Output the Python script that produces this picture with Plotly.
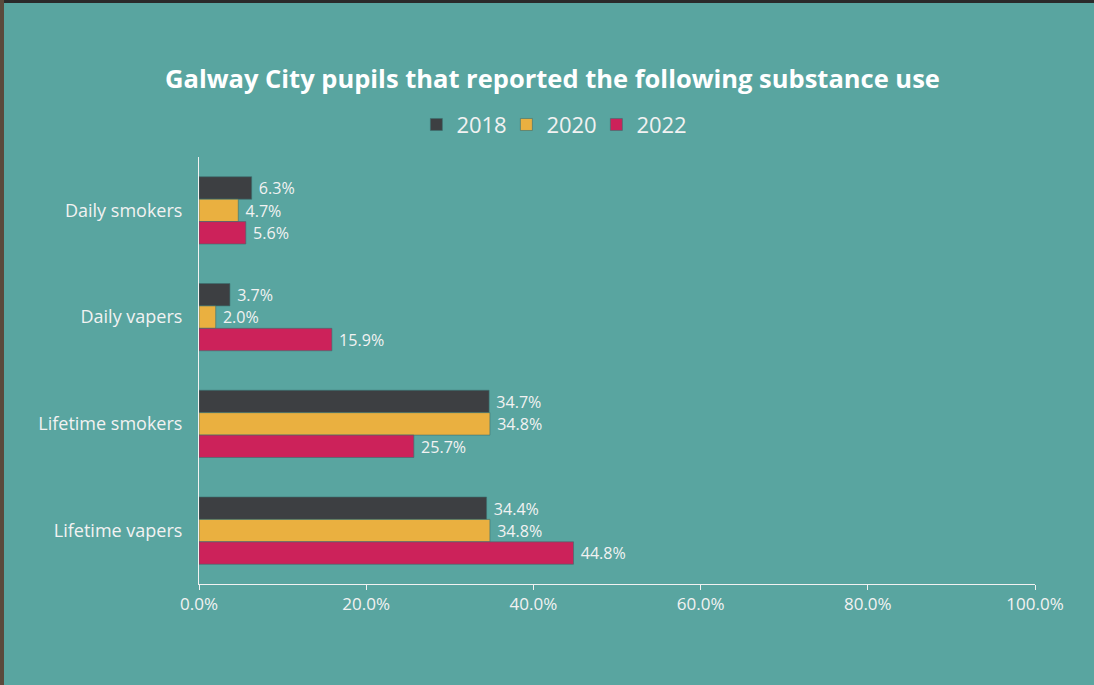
import plotly.graph_objects as go

# data
categories = ["Daily smokers", "Daily vapers", "Lifetime smokers", "Lifetime vapers"]
years = ["2018", "2020", "2022"]
values_2018 = [0.063, 0.037, 0.347, 0.344]
values_2020 = [0.047, 0.020, 0.348, 0.348]
values_2022 = [0.056, 0.159, 0.257, 0.448]
x_ticks = [0, 0.2, 0.4, 0.6, 0.8, 1.0]

BG = "#59a5a0"
COLORS = ["#3d3f42", "#eab040", "#cc225a"]
FONT = "Open Sans"
TXT = "#f2f2f2"

fig = go.Figure()
for name, vals, color in zip(years, [values_2018, values_2020, values_2022], COLORS):
    fig.add_trace(go.Bar(
        name=name,
        y=categories,
        x=vals,
        orientation="h",
        marker=dict(color=color, line=dict(color="rgba(60,110,110,0.6)", width=1)),
        text=[f" {v * 100:.1f}%" for v in vals],
        textposition="outside",
        textfont=dict(color=TXT, size=16.5, family=FONT),
        cliponaxis=False,
        hoverinfo="skip",
    ))

fig.update_layout(
    width=1094,
    height=685,
    paper_bgcolor=BG,
    plot_bgcolor=BG,
    barmode="group",
    bargap=0.37,
    bargroupgap=0.0,
    margin=dict(l=199, r=59, t=157, b=101),
    font=dict(family=FONT, color=TXT),
    title=dict(
        text="<b>Galway City pupils that reported the following substance use</b>",
        x=0.505, xref="container", xanchor="center",
        y=0.885, yref="container", yanchor="middle",
        font=dict(size=25.5, color="white", family=FONT),
    ),
    legend=dict(
        orientation="h",
        x=0.504, xref="container", xanchor="center",
        y=0.818, yref="container", yanchor="middle",
        font=dict(size=22, color=TXT, family=FONT),
        itemwidth=30,
        entrywidth=45,
        traceorder="normal",
        bgcolor="rgba(0,0,0,0)",
    ),
    xaxis=dict(
        range=[0, 1.0],
        tickvals=x_ticks,
        tickformat=".1%",
        showgrid=False,
        zeroline=False,
        showline=True,
        linecolor=TXT,
        linewidth=1,
        ticks="outside",
        ticklen=5,
        tickcolor=TXT,
        tickfont=dict(size=17, color=TXT),
    ),
    yaxis=dict(
        autorange="reversed",
        showgrid=False,
        showline=True,
        linecolor=TXT,
        linewidth=1,
        ticks="",
        ticklabelstandoff=12,
        tickfont=dict(size=18, color=TXT),
    ),
    showlegend=True,
)

# dark page edges visible in the screenshot
fig.add_shape(type="rect", xref="paper", yref="paper",
              x0=-199 / 836, x1=1035 / 836, y0=1 + 154 / 427, y1=1 + 158 / 427,
              fillcolor="#2a2a2a", line_width=0, layer="above")
fig.add_shape(type="rect", xref="paper", yref="paper",
              x0=-199 / 836, x1=-195 / 836, y0=-101 / 427, y1=1 + 157 / 427,
              fillcolor="#5a4a3c", line_width=0, layer="above")

# drop the default page margin so the figure sits at the window corner
fig.write_html("out.html", config={"displayModeBar": False},
               post_script="document.body.style.margin='0';")
